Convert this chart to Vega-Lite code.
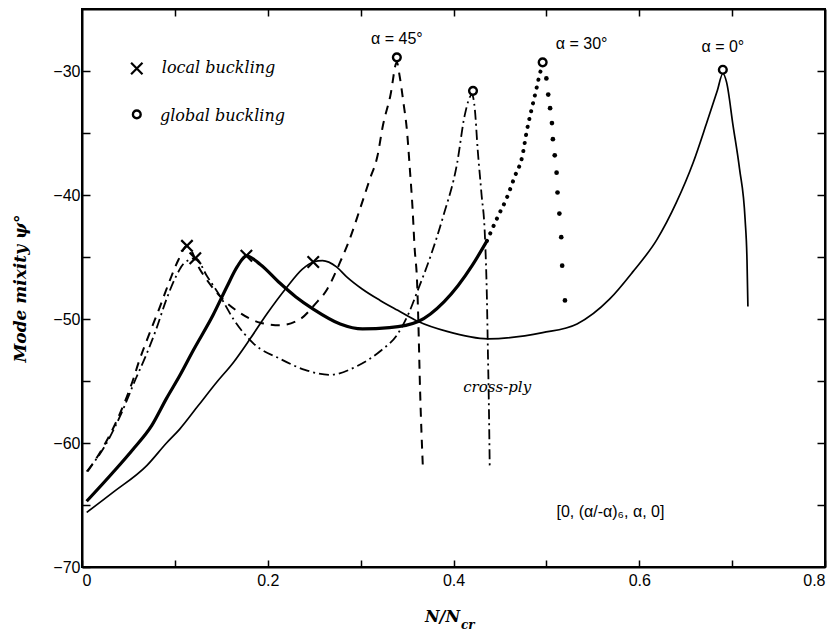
{
  "$schema": "https://vega.github.io/schema/vega-lite/v6.json",
  "width": 743,
  "height": 558,
  "autosize": {"type": "none"},
  "padding": {"left": 82, "top": 9, "right": 12, "bottom": 67},
  "background": "white",
  "config": {"view": {"stroke": "#000", "strokeWidth": 2}},
  "datasets": {
    "curves": [
      {"s":"a0","o":1,"x":0.005,"y":-65.6},{"s":"a0","o":2,"x":0.033,"y":-64.0},{"s":"a0","o":3,"x":0.070,"y":-61.8},{"s":"a0","o":4,"x":0.091,"y":-60.0},{"s":"a0","o":5,"x":0.105,"y":-58.9},{"s":"a0","o":6,"x":0.125,"y":-57.0},{"s":"a0","o":7,"x":0.145,"y":-55.1},{"s":"a0","o":8,"x":0.163,"y":-53.5},{"s":"a0","o":9,"x":0.181,"y":-51.6},{"s":"a0","o":10,"x":0.199,"y":-49.6},{"s":"a0","o":11,"x":0.221,"y":-47.4},{"s":"a0","o":12,"x":0.237,"y":-46.0},{"s":"a0","o":13,"x":0.249,"y":-45.4},{"s":"a0","o":14,"x":0.259,"y":-45.3},{"s":"a0","o":15,"x":0.274,"y":-45.8},{"s":"a0","o":16,"x":0.285,"y":-46.6},{"s":"a0","o":17,"x":0.302,"y":-47.6},{"s":"a0","o":18,"x":0.321,"y":-48.5},{"s":"a0","o":19,"x":0.340,"y":-49.3},{"s":"a0","o":20,"x":0.362,"y":-50.2},{"s":"a0","o":21,"x":0.393,"y":-51.0},{"s":"a0","o":22,"x":0.437,"y":-51.6},{"s":"a0","o":23,"x":0.496,"y":-51.1},{"s":"a0","o":24,"x":0.533,"y":-50.4},{"s":"a0","o":25,"x":0.568,"y":-48.4},{"s":"a0","o":26,"x":0.593,"y":-46.2},{"s":"a0","o":27,"x":0.619,"y":-43.6},{"s":"a0","o":28,"x":0.640,"y":-40.6},{"s":"a0","o":29,"x":0.658,"y":-37.4},{"s":"a0","o":30,"x":0.673,"y":-34.1},{"s":"a0","o":31,"x":0.684,"y":-31.6},{"s":"a0","o":32,"x":0.690,"y":-30.2},{"s":"a0","o":33,"x":0.694,"y":-30.9},{"s":"a0","o":34,"x":0.701,"y":-34.4},{"s":"a0","o":35,"x":0.708,"y":-37.9},{"s":"a0","o":36,"x":0.714,"y":-42.0},{"s":"a0","o":37,"x":0.716,"y":-45.2},{"s":"a0","o":38,"x":0.717,"y":-49.0},
      {"s":"a30","o":1,"x":0.005,"y":-64.7},{"s":"a30","o":2,"x":0.033,"y":-62.4},{"s":"a30","o":3,"x":0.055,"y":-60.5},{"s":"a30","o":4,"x":0.075,"y":-58.6},{"s":"a30","o":5,"x":0.091,"y":-56.4},{"s":"a30","o":6,"x":0.105,"y":-54.6},{"s":"a30","o":7,"x":0.120,"y":-52.5},{"s":"a30","o":8,"x":0.141,"y":-49.7},{"s":"a30","o":9,"x":0.156,"y":-47.4},{"s":"a30","o":10,"x":0.167,"y":-45.8},{"s":"a30","o":11,"x":0.177,"y":-44.9},{"s":"a30","o":12,"x":0.192,"y":-45.6},{"s":"a30","o":13,"x":0.213,"y":-47.1},{"s":"a30","o":14,"x":0.230,"y":-48.2},{"s":"a30","o":15,"x":0.249,"y":-49.2},{"s":"a30","o":16,"x":0.278,"y":-50.4},{"s":"a30","o":17,"x":0.302,"y":-50.8},{"s":"a30","o":18,"x":0.331,"y":-50.7},{"s":"a30","o":19,"x":0.362,"y":-50.2},{"s":"a30","o":20,"x":0.390,"y":-48.6},{"s":"a30","o":21,"x":0.405,"y":-47.3},{"s":"a30","o":22,"x":0.420,"y":-45.7},{"s":"a30","o":23,"x":0.436,"y":-43.7},
      {"s":"a30d","o":1,"x":0.436,"y":-43.7},{"s":"a30d","o":2,"x":0.448,"y":-41.7},{"s":"a30d","o":3,"x":0.457,"y":-40.3},{"s":"a30d","o":4,"x":0.466,"y":-38.5},{"s":"a30d","o":5,"x":0.474,"y":-36.9},{"s":"a30d","o":6,"x":0.479,"y":-34.8},{"s":"a30d","o":7,"x":0.485,"y":-32.8},{"s":"a30d","o":8,"x":0.490,"y":-31.2},{"s":"a30d","o":9,"x":0.493,"y":-30.2},{"s":"a30d","o":10,"x":0.496,"y":-29.6},
      {"s":"a45","o":1,"x":0.006,"y":-62.3},{"s":"a45","o":2,"x":0.023,"y":-60.3},{"s":"a45","o":3,"x":0.041,"y":-57.6},{"s":"a45","o":4,"x":0.055,"y":-54.9},{"s":"a45","o":5,"x":0.061,"y":-53.5},{"s":"a45","o":6,"x":0.073,"y":-51.1},{"s":"a45","o":7,"x":0.084,"y":-49.0},{"s":"a45","o":8,"x":0.095,"y":-46.8},{"s":"a45","o":9,"x":0.104,"y":-45.2},{"s":"a45","o":10,"x":0.113,"y":-44.1},{"s":"a45","o":11,"x":0.127,"y":-46.0},{"s":"a45","o":12,"x":0.149,"y":-48.2},{"s":"a45","o":13,"x":0.170,"y":-49.5},{"s":"a45","o":14,"x":0.192,"y":-50.3},{"s":"a45","o":15,"x":0.213,"y":-50.5},{"s":"a45","o":16,"x":0.235,"y":-50.0},{"s":"a45","o":17,"x":0.251,"y":-48.8},{"s":"a45","o":18,"x":0.264,"y":-47.6},{"s":"a45","o":19,"x":0.278,"y":-45.4},{"s":"a45","o":20,"x":0.288,"y":-43.6},{"s":"a45","o":21,"x":0.299,"y":-41.2},{"s":"a45","o":22,"x":0.310,"y":-38.7},{"s":"a45","o":23,"x":0.318,"y":-36.9},{"s":"a45","o":24,"x":0.324,"y":-34.4},{"s":"a45","o":25,"x":0.332,"y":-32.0},{"s":"a45","o":26,"x":0.339,"y":-29.3},{"s":"a45","o":27,"x":0.342,"y":-30.4},{"s":"a45","o":28,"x":0.346,"y":-32.5},{"s":"a45","o":29,"x":0.350,"y":-34.9},{"s":"a45","o":30,"x":0.353,"y":-37.9},{"s":"a45","o":31,"x":0.356,"y":-41.2},{"s":"a45","o":32,"x":0.358,"y":-44.1},{"s":"a45","o":33,"x":0.361,"y":-47.4},{"s":"a45","o":34,"x":0.362,"y":-49.8},{"s":"a45","o":35,"x":0.364,"y":-55.7},{"s":"a45","o":36,"x":0.367,"y":-61.9},
      {"s":"cp","o":1,"x":0.005,"y":-62.3},{"s":"cp","o":2,"x":0.025,"y":-60.2},{"s":"cp","o":3,"x":0.043,"y":-57.5},{"s":"cp","o":4,"x":0.058,"y":-54.8},{"s":"cp","o":5,"x":0.068,"y":-53.1},{"s":"cp","o":6,"x":0.080,"y":-50.8},{"s":"cp","o":7,"x":0.091,"y":-48.4},{"s":"cp","o":8,"x":0.101,"y":-46.6},{"s":"cp","o":9,"x":0.110,"y":-45.5},{"s":"cp","o":10,"x":0.122,"y":-45.1},{"s":"cp","o":11,"x":0.135,"y":-46.6},{"s":"cp","o":12,"x":0.149,"y":-48.2},{"s":"cp","o":13,"x":0.163,"y":-50.0},{"s":"cp","o":14,"x":0.185,"y":-52.0},{"s":"cp","o":15,"x":0.213,"y":-53.2},{"s":"cp","o":16,"x":0.240,"y":-54.1},{"s":"cp","o":17,"x":0.267,"y":-54.5},{"s":"cp","o":18,"x":0.296,"y":-53.8},{"s":"cp","o":19,"x":0.321,"y":-52.6},{"s":"cp","o":20,"x":0.340,"y":-51.2},{"s":"cp","o":21,"x":0.352,"y":-49.5},{"s":"cp","o":22,"x":0.362,"y":-47.6},{"s":"cp","o":23,"x":0.375,"y":-45.0},{"s":"cp","o":24,"x":0.389,"y":-41.7},{"s":"cp","o":25,"x":0.404,"y":-37.4},{"s":"cp","o":26,"x":0.412,"y":-33.6},{"s":"cp","o":27,"x":0.420,"y":-31.9},{"s":"cp","o":28,"x":0.423,"y":-33.1},{"s":"cp","o":29,"x":0.426,"y":-36.3},{"s":"cp","o":30,"x":0.430,"y":-39.8},{"s":"cp","o":31,"x":0.434,"y":-43.6},{"s":"cp","o":32,"x":0.436,"y":-48.4},{"s":"cp","o":33,"x":0.437,"y":-52.5},{"s":"cp","o":34,"x":0.438,"y":-56.5},{"s":"cp","o":35,"x":0.439,"y":-61.9}
    ],
    "dots": [
      {"x":0.500,"y":-30.6},{"x":0.502,"y":-31.9},{"x":0.504,"y":-33.0},{"x":0.506,"y":-34.2},{"x":0.507,"y":-35.5},{"x":0.509,"y":-36.8},{"x":0.511,"y":-38.2},{"x":0.512,"y":-39.8},{"x":0.514,"y":-41.5},{"x":0.516,"y":-43.4},{"x":0.517,"y":-45.7},{"x":0.520,"y":-48.5}
    ],
    "markers": [
      {"k":"local","x":0.113,"y":-44.1},{"k":"local","x":0.122,"y":-45.1},{"k":"local","x":0.177,"y":-44.9},{"k":"local","x":0.249,"y":-45.4},{"k":"local","x":0.059,"y":-29.8},
      {"k":"global","x":0.339,"y":-28.9},{"k":"global","x":0.421,"y":-31.6},{"k":"global","x":0.496,"y":-29.3},{"k":"global","x":0.690,"y":-29.9},{"k":"global","x":0.059,"y":-33.5}
    ],
    "notes": [
      {"t":"α = 45°","x":0.339,"y":-27.4,"g":"lab"},
      {"t":"α = 30°","x":0.538,"y":-27.8,"g":"lab"},
      {"t":"α = 0°","x":0.690,"y":-28.1,"g":"lab"},
      {"t":"[0, (α/-α)₆, α, 0]","x":0.569,"y":-65.6,"g":"lab"},
      {"t":"local buckling","x":0.086,"y":-29.75,"g":"leg"},
      {"t":"global buckling","x":0.084,"y":-33.6,"g":"leg"},
      {"t":"cross-ply","x":0.447,"y":-55.5,"g":"cp"},
      {"t":"N/N","x":0.407,"y":-74.0,"g":"nt"},
      {"t":"cr","x":0.408,"y":-74.7,"g":"sub"}
    ]
  },
  "resolve": {"axis": {"x": "independent", "y": "independent"}},
  "layer": [
    {
      "data": {"name": "curves"},
      "encoding": {
        "x": {"field": "x", "type": "quantitative", "scale": {"domain": [0, 0.8], "nice": false, "zero": false},
          "axis": {"orient": "bottom", "title": null, "grid": false, "values": [0,0.1,0.2,0.3,0.4,0.5,0.6,0.7,0.8],
            "labelExpr": "round(datum.value*10)%2==0 ? (datum.value==0 ? '0' : format(datum.value,'.1f')) : ''",
            "tickSize": -7, "tickWidth": 1.5, "tickColor": "#000", "domainColor": "#000", "domainWidth": 2,
            "labelFont": "Liberation Sans", "labelFontSize": 16, "labelColor": "#000", "labelPadding": 12}},
        "y": {"field": "y", "type": "quantitative", "scale": {"domain": [-70, -25], "nice": false, "zero": false},
          "axis": {"orient": "left", "title": "Mode mixity ψ°", "grid": false, "values": [-70,-65,-60,-55,-50,-45,-40,-35,-30],
            "labelExpr": "datum.value % 10 == 0 ? datum.label : ''",
            "tickSize": -8, "tickWidth": 1.5, "tickColor": "#000", "domainColor": "#000", "domainWidth": 2,
            "labelFont": "Liberation Sans", "labelFontSize": 16, "labelColor": "#000", "labelPadding": 10,
            "titleFont": "DejaVu Serif", "titleFontStyle": "italic", "titleFontWeight": "bold", "titleFontSize": 17,
            "titleColor": "#000", "titleAngle": -90, "titleX": -62, "titleBaseline": "middle"}}
      },
      "layer": [
        {"transform": [{"filter": "datum.s == 'a0'"}], "mark": {"type": "line", "color": "#000", "strokeWidth": 1.7, "interpolate": "monotone"},
         "encoding": {"order": {"field": "o", "type": "quantitative"}}},
        {"transform": [{"filter": "datum.s == 'a30'"}], "mark": {"type": "line", "color": "#000", "strokeWidth": 3.2, "interpolate": "monotone"},
         "encoding": {"order": {"field": "o", "type": "quantitative"}}},
        {"transform": [{"filter": "datum.s == 'a30d'"}], "mark": {"type": "line", "color": "#000", "strokeWidth": 4, "strokeCap": "round", "strokeDash": [0.1, 8], "interpolate": "monotone"},
         "encoding": {"order": {"field": "o", "type": "quantitative"}}},
        {"transform": [{"filter": "datum.s == 'a45'"}], "mark": {"type": "line", "color": "#000", "strokeWidth": 2, "strokeDash": [9, 7], "interpolate": "monotone"},
         "encoding": {"order": {"field": "o", "type": "quantitative"}}},
        {"transform": [{"filter": "datum.s == 'cp'"}], "mark": {"type": "line", "color": "#000", "strokeWidth": 1.8, "strokeDash": [10, 4, 2, 4], "interpolate": "monotone"},
         "encoding": {"order": {"field": "o", "type": "quantitative"}}},
        {"data": {"name": "dots"}, "mark": {"type": "circle", "size": 22, "color": "#000", "opacity": 1}},
        {"data": {"name": "markers"}, "transform": [{"filter": "datum.k == 'local'"}],
         "mark": {"type": "point", "shape": "M-1,-1L1,1M1,-1L-1,1", "size": 130, "strokeWidth": 2.2, "filled": false, "color": "#000", "opacity": 1}},
        {"data": {"name": "markers"}, "transform": [{"filter": "datum.k == 'global'"}],
         "mark": {"type": "point", "shape": "circle", "size": 60, "strokeWidth": 2.4, "filled": true, "fill": "#fff", "stroke": "#000", "opacity": 1}},
        {"data": {"name": "notes"}, "transform": [{"filter": "datum.g == 'lab'"}],
         "mark": {"type": "text", "font": "Liberation Sans", "fontSize": 16, "color": "#000", "align": "center", "baseline": "middle"},
         "encoding": {"text": {"field": "t"}}},
        {"data": {"name": "notes"}, "transform": [{"filter": "datum.g == 'leg'"}],
         "mark": {"type": "text", "font": "DejaVu Serif", "fontStyle": "italic", "fontSize": 16, "color": "#000", "align": "left", "baseline": "middle"},
         "encoding": {"text": {"field": "t"}}},
        {"data": {"name": "notes"}, "transform": [{"filter": "datum.g == 'cp'"}],
         "mark": {"type": "text", "font": "DejaVu Serif", "fontStyle": "italic", "fontSize": 15, "color": "#000", "align": "center", "baseline": "middle"},
         "encoding": {"text": {"field": "t"}}},
        {"data": {"name": "notes"}, "transform": [{"filter": "datum.g == 'nt'"}],
         "mark": {"type": "text", "font": "DejaVu Serif", "fontStyle": "italic", "fontWeight": "bold", "fontSize": 16, "color": "#000", "align": "right", "baseline": "middle"},
         "encoding": {"text": {"field": "t"}}},
        {"data": {"name": "notes"}, "transform": [{"filter": "datum.g == 'sub'"}],
         "mark": {"type": "text", "font": "DejaVu Serif", "fontStyle": "italic", "fontWeight": "bold", "fontSize": 12, "color": "#000", "align": "left", "baseline": "middle"},
         "encoding": {"text": {"field": "t"}}}
      ]
    },
    {
      "data": {"name": "markers"},
      "mark": {"type": "point", "opacity": 0},
      "encoding": {
        "x": {"field": "x", "type": "quantitative", "scale": {"domain": [0, 0.8], "nice": false, "zero": false},
          "axis": {"orient": "top", "title": null, "labels": false, "grid": false, "values": [0.1,0.2,0.3,0.4,0.5,0.6,0.7],
            "tickSize": -7, "tickWidth": 1.5, "tickColor": "#000", "domainColor": "#000", "domainWidth": 2}},
        "y": {"field": "y", "type": "quantitative", "scale": {"domain": [-70, -25], "nice": false, "zero": false},
          "axis": {"orient": "right", "title": null, "labels": false, "grid": false, "values": [-65,-60,-55,-50,-45,-40,-35,-30],
            "tickSize": -8, "tickWidth": 1.5, "tickColor": "#000", "domainColor": "#000", "domainWidth": 2}}
      }
    }
  ]
}
